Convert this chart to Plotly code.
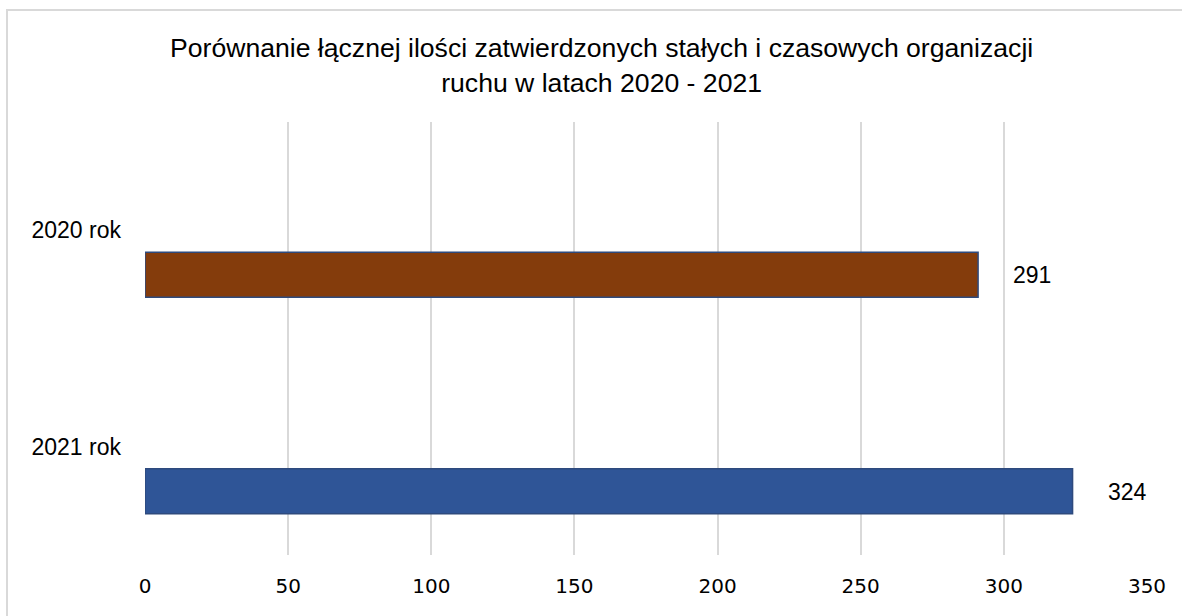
import plotly.graph_objects as go

# Approved permanent and temporary traffic organisations per year
categories = ["2020 rok", "2021 rok"]
values = [291, 324]
bar_colors = ["#843C0C", "#2F5597"]
x_ticks = [0, 50, 100, 150, 200, 250, 300, 350]

title_text = ("Porównanie łącznej ilości zatwierdzonych stałych i czasowych organizacji"
              "<br>ruchu w latach 2020 - 2021")

PLOT_W, PLOT_H = 1002, 433

fig = go.Figure()

# Each bar sits in the lower part of its category band
fig.add_trace(go.Bar(
    y=categories,
    x=values,
    orientation="h",
    width=0.208,
    offset=0.102,
    marker=dict(color=bar_colors, line=dict(color="#2E4A7D", width=1.5)),
    hoverinfo="x+y",
    showlegend=False,
))

# Value labels to the right of each bar, on a white box
for cat, val in zip(categories, values):
    fig.add_annotation(
        x=val, y=cat, xref="x", yref="y",
        text=str(val), showarrow=False,
        xanchor="left", yanchor="middle",
        xshift=30, yshift=-45,
        bgcolor="white", borderpad=4,
        font=dict(family="Liberation Sans, Arial", size=23, color="#000000"),
    )

# Two-line chart title
fig.add_annotation(
    x=(601 - 145) / PLOT_W, y=1 + (122 - 31) / PLOT_H,
    xref="paper", yref="paper", xanchor="center", yanchor="top",
    text=title_text, showarrow=False, align="center",
    font=dict(family="Liberation Sans, Arial", size=26.6, color="#000000"),
)

# Light chart frame
fig.add_shape(type="rect", xref="paper", yref="paper",
              x0=-138 / PLOT_W, x1=1.2, y0=-0.3, y1=1 + 112 / PLOT_H,
              line=dict(color="#D9D9D9", width=2), layer="above")

fig.update_layout(
    width=1182, height=616,
    margin=dict(l=145, r=35, t=122, b=61),
    paper_bgcolor="white", plot_bgcolor="white",
    xaxis=dict(range=[0, 350], tickvals=x_ticks, showgrid=True,
               gridcolor="#D9D9D9", gridwidth=2, zeroline=False,
               showline=False, ticks="", ticklabelstandoff=17,
               tickfont=dict(family="DejaVu Sans", size=20, color="#000000")),
    yaxis=dict(autorange="reversed", showgrid=False, zeroline=False,
               showline=False, ticks="", ticklabelstandoff=23,
               tickfont=dict(family="Liberation Sans, Arial", size=23, color="#000000")),
)

fig.write_html("out.html")
